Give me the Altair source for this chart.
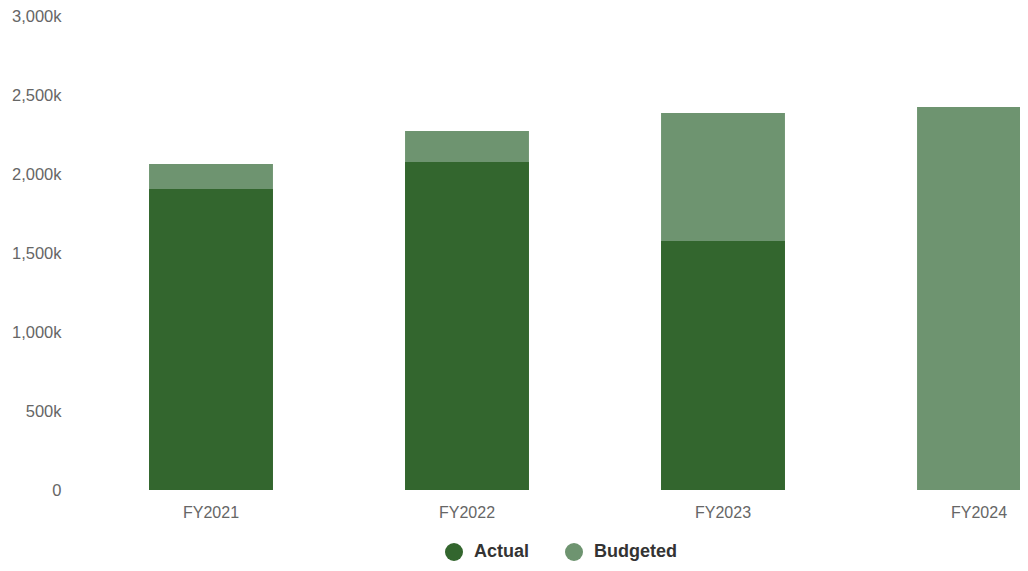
import altair as alt
import pandas as pd

years = ["FY2021", "FY2022", "FY2023", "FY2024"]
budgeted = [2063000, 2272000, 2386000, 2424000]
actual = [1905000, 2076000, 1576000, None]
series = ["Actual", "Budgeted"]
colors = ["#33662e", "#6e9470"]

rows = []
for y, b in zip(years, budgeted):
    rows.append({"year": y, "series": "Budgeted", "value": b, "ord": 0})
for y, a in zip(years, actual):
    if a is not None:
        rows.append({"year": y, "series": "Actual", "value": a, "ord": 1})
df = pd.DataFrame(rows)

chart = alt.Chart(df).mark_bar(clip=False).encode(
    x=alt.X("year:N", sort=years, title=None,
            scale=alt.Scale(paddingInner=0.516, paddingOuter=0.258, range=[0, 1024]),
            axis=alt.Axis(labelAngle=0, ticks=False, domain=False, labelPadding=14,
                          labelFontSize=16, labelColor="#666666", labelFont="Liberation Sans")),
    y=alt.Y("value:Q", stack=None, title=None,
            scale=alt.Scale(domain=[0, 3000000], nice=False),
            axis=alt.Axis(values=[0, 500000, 1000000, 1500000, 2000000, 2500000, 3000000],
                          labelExpr="datum.value == 0 ? '0' : format(datum.value/1000, ',') + 'k'",
                          ticks=False, domain=False, grid=False, labelPadding=22,
                          labelFontSize=16.5, labelColor="#666666", labelFont="Liberation Sans")),
    color=alt.Color("series:N", scale=alt.Scale(domain=series, range=colors),
                    legend=alt.Legend(orient="none", direction="horizontal", title=None,
                                      legendX=362, legendY=527, padding=0,
                                      symbolType="circle", symbolSize=324, symbolStrokeWidth=0,
                                      labelFontSize=18, labelFontWeight="bold", labelColor="#333333",
                                      labelFont="Liberation Sans", labelOffset=11, columnPadding=35)),
    order=alt.Order("ord:Q"),
).properties(
    width=937, height=474,
    autosize=alt.AutoSizeParams(type="none"),
    padding={"left": 75, "top": 8, "right": 0, "bottom": 73},
).configure_view(stroke=None)

chart.save("out.html", embed_options={"renderer": "svg", "actions": False})
